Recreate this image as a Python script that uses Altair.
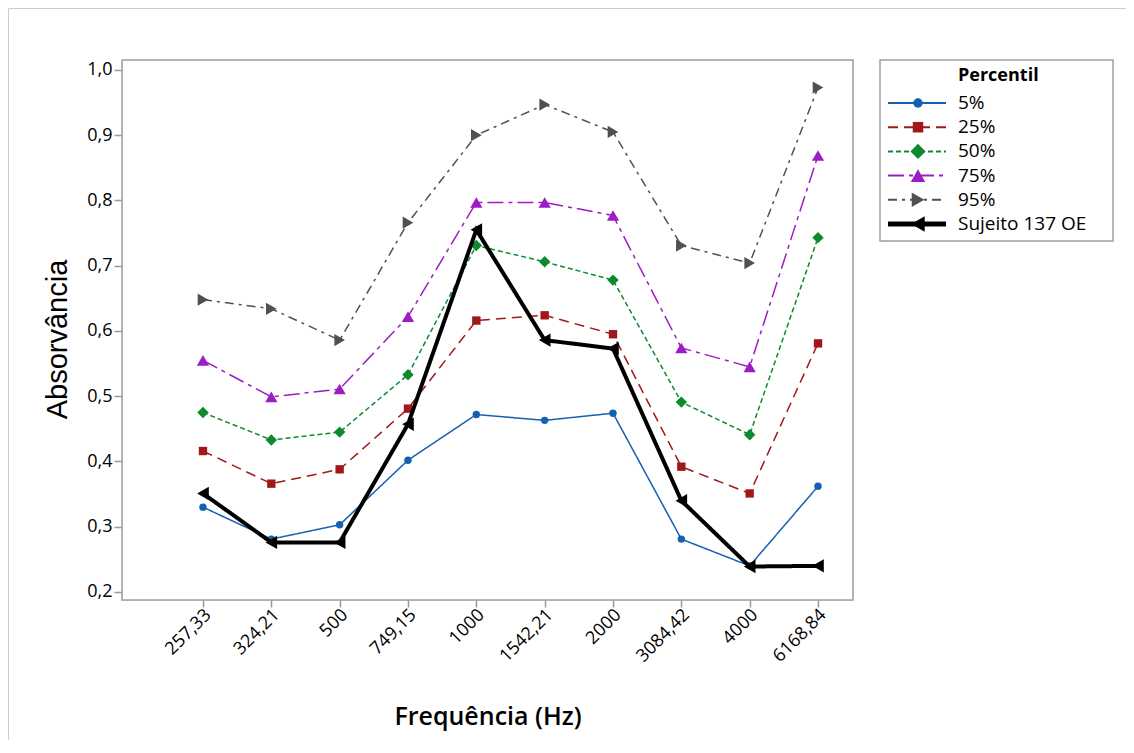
import altair as alt
import pandas as pd

freq_labels = ["257,33", "324,21", "500", "749,15", "1000", "1542,21", "2000", "3084,42", "4000", "6168,84"]

series_names = ["5%", "25%", "50%", "75%", "95%", "Sujeito 137 OE"]
p5 = [0.330, 0.281, 0.303, 0.402, 0.472, 0.463, 0.474, 0.281, 0.240, 0.362]
p25 = [0.416, 0.366, 0.388, 0.481, 0.616, 0.624, 0.595, 0.392, 0.351, 0.581]
p50 = [0.475, 0.433, 0.445, 0.533, 0.731, 0.706, 0.678, 0.491, 0.441, 0.743]
p75 = [0.555, 0.499, 0.511, 0.622, 0.797, 0.797, 0.777, 0.574, 0.545, 0.869]
p95 = [0.648, 0.634, 0.586, 0.766, 0.900, 0.947, 0.905, 0.731, 0.704, 0.973]
subj = [0.351, 0.276, 0.276, 0.457, 0.755, 0.586, 0.573, 0.340, 0.239, 0.240]
all_values = [p5, p25, p50, p75, p95, subj]

colors = ["#1560B0", "#A01818", "#0E8A2E", "#9C1DC4", "#505050", "#000000"]
dashes = [[1, 0], [10, 6], [5, 3], [16, 5, 4, 5], [9, 5, 3, 5], [1, 0]]
shapes = ["circle", "square", "diamond", "triangle-up", "triangle-right", "triangle-left"]
widths = [1.5, 1.5, 1.5, 1.5, 1.5, 4]
sizes = [55, 70, 130, 150, 150, 180]
legend_sizes = [90, 110, 230, 210, 210, 240]
legend_widths = [2, 2, 2, 2, 2, 5]

rows = []
for name, vals in zip(series_names, all_values):
    for i, v in enumerate(vals):
        rows.append({"idx": i, "freq": freq_labels[i], "value": v, "series": name})
df = pd.DataFrame(rows)
leg_df = pd.DataFrame({"series": series_names})

color_scale = alt.Scale(domain=series_names, range=colors)
dash_scale = alt.Scale(domain=series_names, range=dashes)
shape_scale = alt.Scale(domain=series_names, range=shapes)

names_js = "[" + ",".join("'" + s + "'" for s in series_names) + "]"

def lookup_expr(values):
    return "[" + ",".join(str(v) for v in values) + "][indexof(" + names_js + ", datum.series)]"

label_expr = "[" + ",".join("'" + s + "'" for s in freq_labels) + "][datum.value]"
LABEL_FONT = "Open Sans"

x_enc = alt.X("idx:Q",
              scale=alt.Scale(domain=[-1.185, 9.512], nice=False, zero=False),
              axis=alt.Axis(values=list(range(10)), labelExpr=label_expr, labelAngle=-45,
                            labelAlign="right", labelBaseline="middle", labelPadding=5,
                            labelOffset=5,
                            labelFontSize=18, labelFont=LABEL_FONT, labelFontWeight=500,
                            labelColor="#000000",
                            tickSize=7, tickColor="#999999", tickWidth=1.5, domain=False, grid=False,
                            title="Frequência (Hz)", titleFont="Open Sans", titleFontSize=25,
                            titleFontWeight=600, titleColor="#000000", titleY=116,
                            titleBaseline="middle"))
y_enc = alt.Y("value:Q",
              scale=alt.Scale(domain=[0.1877, 1.0153], nice=False, zero=False),
              axis=alt.Axis(values=[0.2, 0.3, 0.4, 0.5, 0.6, 0.7, 0.8, 0.9, 1.0],
                            labelExpr="replace(format(datum.value, '.1f'), '.', ',')",
                            labelFontSize=18, labelFont=LABEL_FONT, labelFontWeight=500,
                            labelColor="#000000",
                            labelPadding=2, tickSize=8, tickColor="#999999", tickWidth=1.5, domain=False,
                            grid=False, title="Absorvância", titleFont="Liberation Sans",
                            titleFontSize=29, titleFontWeight="normal", titleColor="#000000",
                            titleAngle=-90, titleX=-65, titleY=279, titleAlign="center",
                            titleBaseline="middle"))

base = alt.Chart(df).transform_calculate(
    lw=lookup_expr(widths), msize=lookup_expr(sizes)
)
pct = base.transform_filter("datum.series != 'Sujeito 137 OE'")
sub = base.transform_filter("datum.series == 'Sujeito 137 OE'")

def line_layer(b):
    return b.mark_line().encode(
        x=x_enc, y=y_enc, detail="series:N",
        color=alt.Color("series:N", scale=color_scale, legend=None),
        strokeDash=alt.StrokeDash("series:N", scale=dash_scale, legend=None),
        strokeWidth=alt.StrokeWidth("lw:Q", scale=None, legend=None),
    )

def point_layer(b):
    return b.mark_point(filled=True, opacity=1).encode(
        x=x_enc, y=y_enc,
        color=alt.Color("series:N", scale=color_scale, legend=None),
        shape=alt.Shape("series:N", scale=shape_scale, legend=None),
        size=alt.Size("msize:Q", scale=None, legend=None),
    )

plot_frame = alt.Chart(leg_df.head(1)).mark_rect(fill=None, stroke="#a0a0a0", strokeWidth=1.5).encode(
    x=alt.value(0), x2=alt.value(731), y=alt.value(0), y2=alt.value(540))

main = alt.layer(plot_frame, line_layer(pct), point_layer(pct), line_layer(sub), point_layer(sub))

# Legend (drawn with the same series scales)
leg_base = alt.Chart(leg_df).transform_calculate(
    lw=lookup_expr(legend_widths), msize=lookup_expr(legend_sizes)
)
leg_y = alt.Y("series:N", scale=alt.Scale(type="point", domain=series_names, range=[43, 164], padding=0),
              axis=None)
leg_box = alt.Chart(leg_df.head(1)).mark_rect(fill="white", stroke="#a0a0a0", strokeWidth=1.5).encode(
    x=alt.value(758), x2=alt.value(991), y=alt.value(0), y2=alt.value(181))
leg_lines = leg_base.mark_rule().encode(
    x=alt.value(766), x2=alt.value(824), y=leg_y,
    color=alt.Color("series:N", scale=color_scale, legend=None),
    strokeDash=alt.StrokeDash("series:N", scale=dash_scale, legend=None),
    strokeWidth=alt.StrokeWidth("lw:Q", scale=None, legend=None),
)
leg_pts = leg_base.mark_point(filled=True, opacity=1).encode(
    x=alt.value(796), y=leg_y,
    color=alt.Color("series:N", scale=color_scale, legend=None),
    shape=alt.Shape("series:N", scale=shape_scale, legend=None),
    size=alt.Size("msize:Q", scale=None, legend=None),
)
leg_text = alt.Chart(leg_df).mark_text(align="left", baseline="middle", font="Open Sans",
                                       fontSize=19, fontWeight=500, color="#000000").encode(
    x=alt.value(836), y=leg_y, text="series:N")
leg_title = alt.Chart(leg_df.head(1)).mark_text(align="left", baseline="middle", font="Open Sans",
                                                fontSize=18, fontWeight="bold", color="#000000").encode(
    x=alt.value(836), y=alt.value(16), text=alt.value("Percentil"))

# light outer page frame
frame_top = alt.Chart(leg_df.head(1)).mark_rule(color="#cccccc", strokeWidth=1).encode(
    x=alt.value(-113.5), x2=alt.value(1010), y=alt.value(-51.5))
frame_left = alt.Chart(leg_df.head(1)).mark_rule(color="#cccccc", strokeWidth=1).encode(
    x=alt.value(-113.5), y=alt.value(-51.5), y2=alt.value(700))

legend = alt.layer(leg_box, leg_lines, leg_pts, leg_text, leg_title)
frame = alt.layer(frame_top, frame_left)

chart = alt.layer(frame, main, legend).resolve_scale(
    y="independent"
).properties(
    width=731, height=540,
    autosize=alt.AutoSizeParams(type="none"),
    padding={"left": 114, "top": 52, "right": 273, "bottom": 140},
).configure_view(strokeWidth=0).configure(background="white")

chart.save("out.html", embed_options={"renderer": "svg", "actions": False})
